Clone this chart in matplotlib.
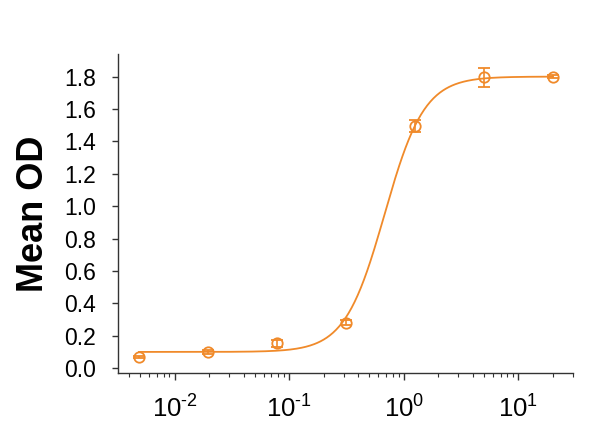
import numpy as np
import matplotlib
matplotlib.use("Agg")
import matplotlib.pyplot as plt

plt.rcParams['font.family'] = ['Liberation Sans', 'DejaVu Sans']
plt.rcParams['mathtext.fontset'] = 'custom'
plt.rcParams['mathtext.rm'] = 'Liberation Sans'
plt.rcParams['mathtext.it'] = 'Liberation Sans:italic'
plt.rcParams['mathtext.bf'] = 'Liberation Sans:bold'

# Data
conc = [0.00488, 0.0195, 0.078, 0.3125, 1.25, 5.0, 20.0]
mean_od = [0.07, 0.097, 0.153, 0.28, 1.495, 1.795, 1.80]
err = [0.006, 0.012, 0.022, 0.015, 0.037, 0.058, 0.01]

# Fitted 4PL parameters
bottom, top, ec50, hill = 0.10, 1.80, 0.68, 2.5

xticks = [0.01, 0.1, 1, 10]
xticklabels = [r'$\mathrm{10^{\text{-2}}}$', r'$\mathrm{10^{\text{-1}}}$',
               r'$\mathrm{10^{0}}$', r'$\mathrm{10^{1}}$']
yticks = [0.0, 0.2, 0.4, 0.6, 0.8, 1.0, 1.2, 1.4, 1.6, 1.8]

color = '#F08A2A'

fig = plt.figure(figsize=(6.05, 4.3), dpi=100)
ax = fig.add_axes([0.195, 0.1326, 0.752, 0.742])

xs = np.logspace(np.log10(conc[0]), np.log10(conc[-1]), 400)
ys = bottom + (top - bottom) / (1 + (ec50 / xs) ** hill)
ax.plot(xs, ys, color=color, lw=1.3)
ax.errorbar(conc, mean_od, yerr=err, fmt='o', mfc='none', mec=color,
            ecolor=color, color=color, ms=7.5, mew=1.3, capsize=4.5,
            elinewidth=1.2, capthick=1.2)

ax.set_xscale('log')
ax.set_xlim(0.0032, 30)
ax.set_ylim(-0.03, 1.94)
ax.set_xticks(xticks)
ax.set_xticklabels(xticklabels, fontsize=18.5)
ax.set_yticks(yticks)
ax.set_yticklabels([f'{v:.1f}' for v in yticks], fontsize=16.5)
ax.set_ylabel('Mean OD', fontsize=26, fontweight='bold', labelpad=9)

for s in ['top', 'right']:
    ax.spines[s].set_visible(False)
for s in ['left', 'bottom']:
    ax.spines[s].set_color('#333333')
    ax.spines[s].set_linewidth(1.0)
ax.tick_params(axis='y', length=4, width=1, color='#333333', pad=12)
ax.tick_params(axis='x', which='major', length=5, width=1, color='#333333', pad=11)
ax.tick_params(axis='x', which='minor', length=3, width=0.8, color='#333333')

fig.savefig('out.png', dpi=100)
